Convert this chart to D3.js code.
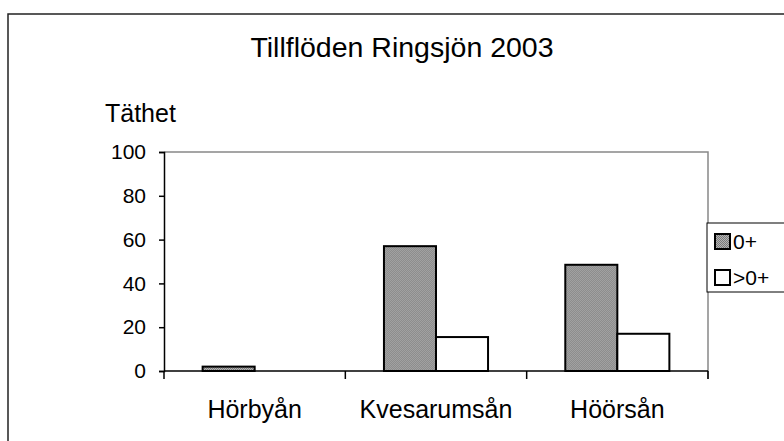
<!DOCTYPE html>
<html>
<head>
<meta charset="utf-8">
<script src="https://cdn.jsdelivr.net/npm/d3@7"></script>
<style>
  body { margin: 0; background: #fff; }
  text { font-family: "Liberation Sans", Arial, sans-serif; fill: #000; }
</style>
</head>
<body>
<svg id="chart" width="784" height="441"></svg>
<script>
const categories = ['Hörbyån', 'Kvesarumsån', 'Höörsån'];
const seriesNames = ['0+', '>0+'];
const values0 = [2, 57, 48.5];
const valuesOver0 = [0, 15.5, 17];
const yTicks = [0, 20, 40, 60, 80, 100];

const svg = d3.select('#chart');
const margin = { top: 152, left: 164, right: 76, bottom: 70 };
const width = 784 - margin.left - margin.right;
const height = 441 - margin.top - margin.bottom;

// dithered grey fill like the old spreadsheet export
const defs = svg.append('defs');
const pat = defs.append('pattern')
  .attr('id', 'dither')
  .attr('width', 2).attr('height', 2)
  .attr('patternUnits', 'userSpaceOnUse');
pat.append('rect').attr('width', 2).attr('height', 2).attr('fill', '#b4b4b4');
pat.append('rect').attr('width', 1).attr('height', 1).attr('fill', '#7a7a7a');
pat.append('rect').attr('x', 1).attr('y', 1).attr('width', 1).attr('height', 1).attr('fill', '#7a7a7a');

// outer frame
svg.append('rect')
  .attr('x', 8).attr('y', 14)
  .attr('width', 790).attr('height', 440)
  .attr('fill', 'none')
  .attr('stroke', '#222')
  .attr('stroke-width', 1.5);

svg.append('text')
  .attr('x', 402).attr('y', 57)
  .attr('text-anchor', 'middle')
  .style('font-size', '28.5px')
  .text('Tillflöden Ringsjön 2003');

svg.append('text')
  .attr('x', 105).attr('y', 122)
  .style('font-size', '25px')
  .text('Täthet');

const g = svg.append('g').attr('transform', `translate(${margin.left},${margin.top})`);

const x0 = d3.scaleBand().domain(categories).range([0, width]).padding(0);
const barW = x0.bandwidth() * 0.287;
const x1 = d3.scaleBand().domain(seriesNames)
  .range([(x0.bandwidth() - 2 * barW) / 2, (x0.bandwidth() + 2 * barW) / 2]);
const y = d3.scaleLinear().domain([0, 100]).range([height, 0]);

// plot area border (grey top and right)
g.append('path')
  .attr('d', `M0,0H${width}V${height + 8}`)
  .attr('fill', 'none')
  .attr('stroke', '#888')
  .attr('stroke-width', 1.5);

const rows = categories.map((c, i) => ({ cat: c, vals: [values0[i], valuesOver0[i]] }));

const groups = g.selectAll('g.cat')
  .data(rows)
  .join('g')
  .attr('class', 'cat')
  .attr('transform', d => `translate(${x0(d.cat)},0)`);

groups.selectAll('rect')
  .data(d => d.vals.map((v, j) => ({ key: seriesNames[j], v })).filter(e => e.v > 0))
  .join('rect')
  .attr('x', d => x1(d.key))
  .attr('width', x1.bandwidth())
  .attr('y', d => y(d.v))
  .attr('height', d => y(0) - y(d.v))
  .attr('fill', d => d.key === '0+' ? 'url(#dither)' : '#fff')
  .attr('stroke', '#000')
  .attr('stroke-width', 2);

// y axis
const yAxis = g.append('g')
  .call(d3.axisLeft(y).tickValues(yTicks).tickSize(5).tickPadding(13));
yAxis.select('.domain').attr('stroke', '#000').attr('stroke-width', 1.5);
yAxis.selectAll('.tick line').attr('stroke', '#000').attr('stroke-width', 1.5);
yAxis.selectAll('.tick text').style('font-size', '21px')
  .style('font-family', '"Liberation Sans", Arial, sans-serif').attr('fill', '#000');

// x axis with ticks at category boundaries
const xAxis = g.append('g').attr('transform', `translate(0,${height})`);
xAxis.append('line')
  .attr('x1', 0).attr('x2', width)
  .attr('stroke', '#000').attr('stroke-width', 1.5);
const bounds = categories.map(c => x0(c)).concat([width]);
xAxis.selectAll('line.tk')
  .data(bounds)
  .join('line')
  .attr('class', 'tk')
  .attr('x1', d => d).attr('x2', d => d)
  .attr('y1', 0).attr('y2', 8)
  .attr('stroke', '#000').attr('stroke-width', 1.5);
xAxis.selectAll('text')
  .data(categories)
  .join('text')
  .attr('x', d => x0(d) + x0.bandwidth() / 2)
  .attr('y', 47)
  .attr('text-anchor', 'middle')
  .style('font-size', '25px')
  .text(d => d);

// legend
const legend = svg.append('g').attr('transform', 'translate(707,223)');
legend.append('rect')
  .attr('width', 90).attr('height', 69)
  .attr('fill', '#fff')
  .attr('stroke', '#000').attr('stroke-width', 1);
const items = legend.selectAll('g.item')
  .data(seriesNames)
  .join('g')
  .attr('class', 'item')
  .attr('transform', (d, i) => `translate(8,${18 + i * 36})`);
items.append('rect')
  .attr('y', -7).attr('width', 15).attr('height', 15)
  .attr('fill', d => d === '0+' ? 'url(#dither)' : '#fff')
  .attr('stroke', '#000').attr('stroke-width', 2);
items.append('text')
  .attr('x', 18).attr('y', 8)
  .style('font-size', '21px')
  .text(d => d);
</script>
</body>
</html>
